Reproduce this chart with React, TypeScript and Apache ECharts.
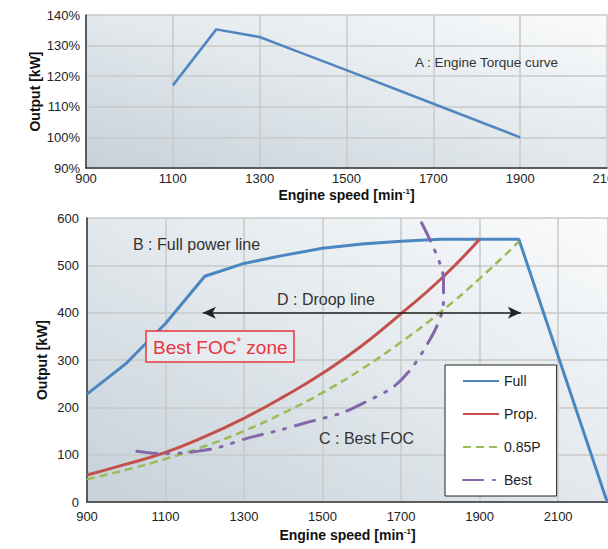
import React, { useEffect, useRef } from "react";
import * as echarts from "echarts";

const X0 = 900;
const FONT = '"Liberation Sans", Arial, sans-serif';

// Top chart: engine torque curve
const torqueSpeed = [1100, 1200, 1300, 1400, 1500, 1700, 1900];
const torquePct = [117, 135.3, 132.8, 127.4, 122, 111, 100];

// Bottom chart
const fullSpeed = [900, 1000, 1100, 1200, 1300, 1400, 1500, 1600, 1700, 1800, 1900, 2000, 2225];
const fullKW = [228, 293, 377, 477, 504, 521, 536, 545, 551, 555, 555, 555, 0];
const propSpeed = [900, 1000, 1100, 1200, 1300, 1400, 1500, 1600, 1700, 1800, 1900];
const propKW = [57, 80, 105, 138, 177, 222, 272, 330, 398, 470, 555];
const p85Speed = [900, 1000, 1100, 1200, 1300, 1400, 1500, 1600, 1700, 1800, 1900, 2000];
const p85KW = [48, 68, 91, 118, 150, 188, 231, 281, 338, 401, 472, 550];
const bestSpeed = [1027, 1086, 1150, 1188, 1239, 1305, 1392, 1455, 1545, 1604, 1680, 1729, 1782, 1804, 1808, 1808, 1799, 1774, 1746];
const bestKW = [107, 102, 104, 108, 116, 134, 152, 167, 187, 209, 243, 285, 356, 400, 426, 472, 504, 553, 600];
const droopSpeed = [1195, 2005];
const droopKW = 400;

const xTickLabels = [900, 1100, 1300, 1500, 1700, 1900, 2100];
const topYMin = 90, topYMax = 140, topYStep = 10;
const botYMin = 0, botYMax = 600, botYStep = 100;
const topXMax = 2100;
const botXMax = 2227;

const pairs = (xs: number[], ys: number[]) => xs.map((x, i) => [x - X0, ys[i]]);

const bg = {
  type: "linear", x: 0, y: 1, x2: 1, y2: 0,
  colorStops: [
    { offset: 0, color: "#c6d1d9" },
    { offset: 0.5, color: "#e2e8ec" },
    { offset: 1, color: "#fafbfc" },
  ],
};

const xFormatter = (v: number) => {
  const s = Math.round(v + X0);
  return xTickLabels.includes(s) ? String(s) : "";
};

const nameRich = {
  s: { fontSize: 8, fontWeight: "bold", fontFamily: FONT, color: "#111", verticalAlign: "top", lineHeight: 16 },
};

export default function App() {
  const ref = useRef<HTMLDivElement>(null);
  useEffect(() => {
    if (!ref.current) return;
    const chart = echarts.init(ref.current, null, { renderer: "svg" });
    const axisLine = { show: true, lineStyle: { color: "#333", width: 1.5 } };
    const splitLine = { show: true, lineStyle: { color: "#c8c8c8", width: 1.5 } };
    const labelStyle = { color: "#222", fontSize: 13, fontFamily: FONT };
    const nameStyle = { color: "#111", fontSize: 14, fontWeight: "bold", fontFamily: FONT, lineHeight: 16, rich: nameRich };
    chart.setOption({
      animation: false,
      textStyle: { fontFamily: FONT },
      grid: [
        { left: 86, right: 1, top: 15, bottom: 381, show: true, backgroundColor: bg, borderWidth: 0, outerBoundsMode: "none", containLabel: false },
        { left: 87, right: 0, top: 218, bottom: 47, show: true, backgroundColor: bg, borderWidth: 0, outerBoundsMode: "none", containLabel: false },
      ],
      xAxis: [
        {
          gridIndex: 0, type: "value", min: 0, max: topXMax - X0, interval: 200,
          axisLine, splitLine, axisTick: { show: false },
          axisLabel: { ...labelStyle, margin: 4, formatter: xFormatter, hideOverlap: false },
          name: "Engine speed [min{s|-1}]", nameLocation: "middle", nameGap: 19, nameMoveOverlap: false, nameTextStyle: nameStyle,
        },
        {
          gridIndex: 1, type: "value", min: 0, max: botXMax - X0, interval: 200,
          axisLine, splitLine, axisTick: { show: false },
          axisLabel: { ...labelStyle, margin: 8, formatter: xFormatter },
          name: "Engine speed [min{s|-1}]", nameLocation: "middle", nameGap: 25, nameMoveOverlap: false, nameTextStyle: nameStyle,
        },
      ],
      yAxis: [
        {
          gridIndex: 0, type: "value", min: topYMin, max: topYMax, interval: topYStep,
          axisLine, splitLine, axisTick: { show: false },
          axisLabel: { ...labelStyle, margin: 6, formatter: "{value}%" },
          name: "Output [kW]", nameLocation: "middle", nameGap: 43, nameRotate: 90, nameMoveOverlap: false, nameTextStyle: nameStyle,
        },
        {
          gridIndex: 1, type: "value", min: botYMin, max: botYMax, interval: botYStep,
          axisLine, splitLine, axisTick: { show: false },
          axisLabel: { ...labelStyle, margin: 8 },
          name: "Output [kW]", nameLocation: "middle", nameGap: 37, nameRotate: 90, nameMoveOverlap: false, nameTextStyle: nameStyle,
        },
      ],
      legend: {
        data: ["Full", "Prop.", "0.85P", "Best"],
        orient: "vertical",
        left: 445, top: 365,
        padding: [9, 16, 9, 17],
        itemWidth: 36, itemHeight: 14, itemGap: 19,
        itemStyle: { opacity: 0 },
        backgroundColor: "#fff", borderColor: "#222", borderWidth: 1, borderRadius: 0,
        textStyle: { color: "#222", fontSize: 14, fontFamily: FONT },
      },
      series: [
        {
          name: "Torque", type: "line", xAxisIndex: 0, yAxisIndex: 0, symbol: "none",
          data: pairs(torqueSpeed, torquePct),
          lineStyle: { color: "#4f86c0", width: 2.5 }, itemStyle: { color: "#4f86c0" },
        },
        {
          name: "Full", type: "line", xAxisIndex: 1, yAxisIndex: 1, symbol: "none",
          data: pairs(fullSpeed, fullKW),
          lineStyle: { color: "#4a86c0", width: 3 }, itemStyle: { color: "#4a86c0" },
          markLine: {
            silent: true, symbol: ["arrow", "arrow"], symbolSize: [9, 13],
            label: { show: false },
            lineStyle: { color: "#222", width: 1.5, type: "solid" },
            data: [[{ coord: [droopSpeed[0] - X0, droopKW] }, { coord: [droopSpeed[1] - X0, droopKW] }]],
          },
        },
        {
          name: "Prop.", type: "line", xAxisIndex: 1, yAxisIndex: 1, symbol: "none", smooth: true,
          data: pairs(propSpeed, propKW),
          lineStyle: { color: "#c4504d", width: 3 }, itemStyle: { color: "#c4504d" },
        },
        {
          name: "0.85P", type: "line", xAxisIndex: 1, yAxisIndex: 1, symbol: "none", smooth: true,
          data: pairs(p85Speed, p85KW),
          lineStyle: { color: "#9bbb59", width: 2.5, type: [8, 5] }, itemStyle: { color: "#9bbb59" },
        },
        {
          name: "Best", type: "line", xAxisIndex: 1, yAxisIndex: 1, symbol: "none", smooth: 0.3,
          data: pairs(bestSpeed, bestKW),
          lineStyle: { color: "#8466aa", width: 3, type: [20, 10, 2, 10, 2, 10], cap: "round" },
          itemStyle: { color: "#8466aa" },
        },
      ],
      graphic: [
        {
          type: "text", x: 415, y: 62, z: 10,
          style: { text: "A : Engine Torque curve", fontSize: 13.5, fontFamily: FONT, fill: "#333", verticalAlign: "middle" },
        },
        {
          type: "text", x: 133, y: 244, z: 10,
          style: { text: "B : Full power line", fontSize: 16, fontFamily: FONT, fill: "#333", verticalAlign: "middle" },
        },
        {
          type: "text", x: 277, y: 299, z: 10,
          style: { text: "D : Droop line", fontSize: 16, fontFamily: FONT, fill: "#333", verticalAlign: "middle" },
        },
        {
          type: "text", x: 319, y: 438, z: 10,
          style: { text: "C : Best FOC", fontSize: 16, fontFamily: FONT, fill: "#333", verticalAlign: "middle" },
        },
        {
          type: "rect", z: 10,
          shape: { x: 146, y: 331, width: 148, height: 31 },
          style: { fill: "#e6ebef", stroke: "#e8363f", lineWidth: 1.5 },
        },
        {
          type: "text", x: 153, y: 347, z: 11,
          style: {
            text: "{a|Best FOC}{s|*}{a| zone}",
            verticalAlign: "middle",
            rich: {
              a: { fontSize: 19, fontFamily: FONT, fill: "#e8363f", lineHeight: 22 },
              s: { fontSize: 12, fontFamily: FONT, fill: "#e8363f", verticalAlign: "top", lineHeight: 22 },
            },
          },
        },
      ],
    });
    return () => chart.dispose();
  }, []);
  return <div ref={ref} style={{ position: "absolute", left: 0, top: 0, width: 608, height: 549 }} />;
}
